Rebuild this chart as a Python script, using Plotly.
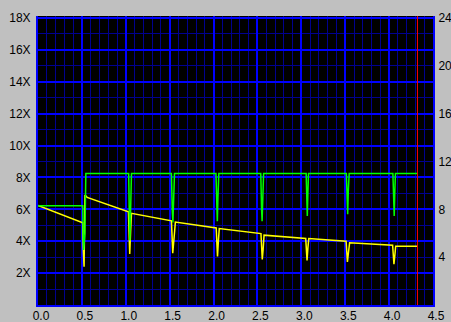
import plotly.graph_objects as go

# ---- data ----
# yellow trace: transfer rate in X (left axis)
yellow_x = [0.00, 0.51, 0.515, 0.525, 0.535, 0.56,
            1.03, 1.035, 1.045, 1.055, 1.065,
            1.52, 1.525, 1.535, 1.55, 1.565,
            2.03, 2.035, 2.045, 2.055, 2.065,
            2.54, 2.545, 2.555, 2.565, 2.575,
            3.05, 3.055, 3.065, 3.075, 3.085,
            3.51, 3.515, 3.525, 3.535, 3.55,
            4.04, 4.045, 4.055, 4.065, 4.075,
            4.323]
yellow_y = [6.25, 5.15, 3.6, 2.4, 6.9, 6.75,
            5.85, 4.3, 3.2, 4.6, 5.75,
            5.28, 4.0, 3.25, 4.2, 5.2,
            4.83, 3.9, 3.05, 4.0, 4.8,
            4.48, 3.7, 2.85, 3.5, 4.38,
            4.17, 3.5, 2.8, 3.6, 4.17,
            4.0, 3.6, 2.7, 3.2, 3.9,
            3.75, 3.3, 2.56, 3.1, 3.69,
            3.69]

# green trace: right axis values
green_x = [0.00, 0.51, 0.515, 0.52, 0.535, 0.545,
           1.033, 1.035, 1.042, 1.047, 1.055, 1.065,
           1.52, 1.522, 1.53, 1.537, 1.545, 1.555,
           2.027, 2.03, 2.037, 2.043, 2.05, 2.06,
           2.538, 2.54, 2.547, 2.553, 2.56, 2.57,
           3.055, 3.058, 3.063, 3.068, 3.075, 3.082,
           3.513, 3.516, 3.522, 3.528, 3.535, 3.545,
           4.043, 4.046, 4.052, 4.058, 4.065, 4.072,
           4.323]
green_y = [8.3, 8.3, 6.0, 4.6, 6.0, 11.0,
           11.0, 8.6, 6.9, 5.4, 7.5, 11.0,
           11.0, 9.5, 7.8, 6.9, 8.5, 11.0,
           11.0, 9.5, 8.0, 7.0, 9.0, 11.0,
           11.0, 9.3, 8.0, 7.0, 9.0, 11.0,
           11.0, 9.5, 8.2, 7.45, 9.5, 11.0,
           11.0, 9.5, 8.2, 7.6, 9.5, 11.0,
           11.0, 9.5, 8.2, 7.45, 9.5, 11.0,
           11.0]

end_position = 4.323

x_ticks = [0.0, 0.5, 1.0, 1.5, 2.0, 2.5, 3.0, 3.5, 4.0, 4.5]
x_labels = ["0.0", "0.5", "1.0", "1.5", "2.0", "2.5", "3.0", "3.5", "4.0", "4.5"]
left_ticks = [2, 4, 6, 8, 10, 12, 14, 16, 18]
left_labels = ["2X", "4X", "6X", "8X", "10X", "12X", "14X", "16X", "18X"]
right_ticks = [4, 8, 12, 16, 20, 24]
right_labels = ["4", "8", "12", "16", "20", "24"]

# ---- figure ----
W, H = 451, 322
ml, mr, mt, mb = 38, 18, 16, 17
plot_h = H - mt - mb
top_frac = plot_h / (plot_h - 2)  # small black band above the top gridline
left_max = 18 * top_frac
right_max = 24 * top_frac

MAJOR = "#0000FF"
MINOR = "#000090"
font = dict(family="Liberation Sans, Arial, sans-serif", size=12, color="black")

fig = go.Figure()
fig.add_trace(go.Scatter(x=green_x, y=green_y, mode="lines", yaxis="y2",
                         line=dict(color="#00FF00", width=1.5), hoverinfo="skip"))
fig.add_trace(go.Scatter(x=yellow_x, y=yellow_y, mode="lines", yaxis="y",
                         line=dict(color="#FFFF00", width=1.5), hoverinfo="skip"))

fig.add_shape(type="line", xref="x", yref="paper", x0=end_position, x1=end_position,
              y0=0, y1=1, line=dict(color="#FF0000", width=1), layer="above")

fig.update_layout(
    width=W, height=H,
    margin=dict(l=ml, r=mr, t=mt, b=mb, pad=0, autoexpand=False),
    paper_bgcolor="#C0C0C0", plot_bgcolor="black",
    showlegend=False,
    font=font,
    xaxis=dict(range=[0, 4.5], tickmode="array", tickvals=x_ticks, ticktext=x_labels,
               showgrid=True, gridcolor=MAJOR, gridwidth=2,
               minor=dict(tickmode="linear", tick0=0, dtick=0.1, showgrid=True,
                          gridcolor=MINOR, gridwidth=1),
               zeroline=False, showline=True, linecolor=MAJOR, linewidth=2,
               ticks="", tickfont=font, ticklabelstandoff=-1, ticklabelshift=3,
               fixedrange=True),
    yaxis=dict(range=[0, left_max], tickmode="array", tickvals=left_ticks, ticktext=left_labels,
               showgrid=True, gridcolor=MAJOR, gridwidth=2,
               minor=dict(tickmode="linear", tick0=0, dtick=1, showgrid=True,
                          gridcolor=MINOR, gridwidth=1),
               zeroline=False, showline=True, linecolor=MAJOR, linewidth=2,
               ticks="", tickfont=font, ticklabelstandoff=3, fixedrange=True),
    yaxis2=dict(range=[0, right_max], overlaying="y", side="right",
                tickmode="array", tickvals=right_ticks, ticktext=right_labels,
                showgrid=False, zeroline=False, showline=True, linecolor=MAJOR, linewidth=2,
                ticks="", tickfont=font, ticklabelstandoff=1, fixedrange=True),
)

fig.write_html("out.html", config={"displayModeBar": False})
